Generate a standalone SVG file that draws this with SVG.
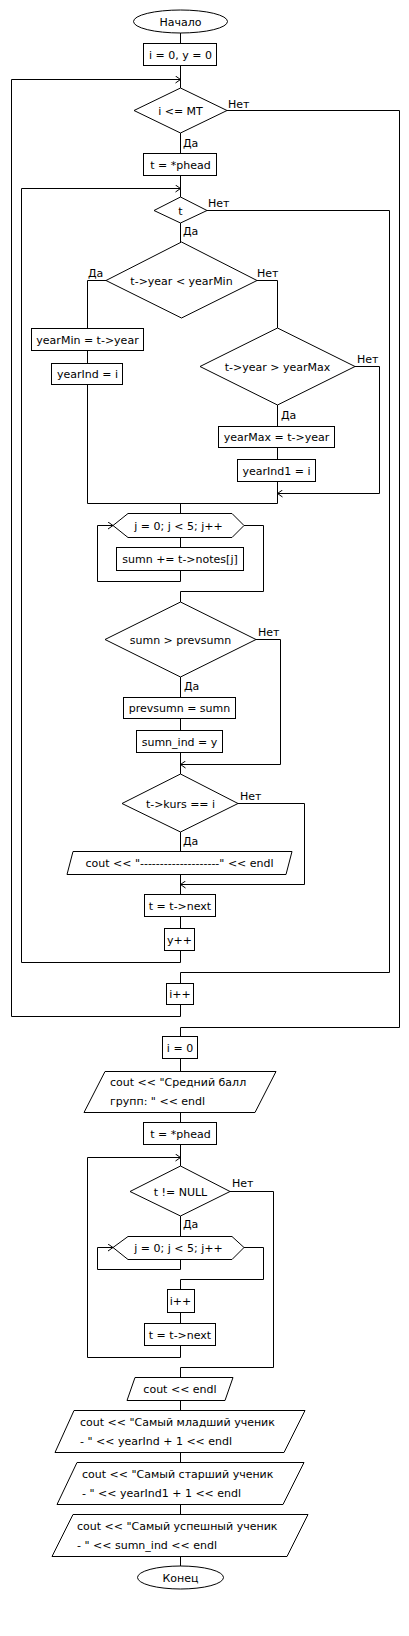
<svg xmlns="http://www.w3.org/2000/svg" width="409" height="1636" viewBox="0 0 409 1636">
<style>
.s{fill:#fff;stroke:#000;stroke-width:1}
.c{fill:none;stroke:#000;stroke-width:1}
text{font-family:"DejaVu Sans","Liberation Sans",sans-serif;font-size:11px;fill:#000}
.m{text-anchor:middle}
</style>
<defs>
<marker id="a" markerUnits="userSpaceOnUse" markerWidth="8" markerHeight="8" refX="6" refY="4" orient="auto">
<path d="M1,0.5 L6,4 L1,7.5" fill="none" stroke="#000" stroke-width="1"/>
</marker>
</defs>
<rect width="409" height="1636" fill="#fff"/>
<g id="connectors" class="c">
<path d="M180.5,33 V43"/>
<path d="M180.5,66 V88"/>
<path d="M180.5,1005 V1016.5 H11.5 V79.5 H180.5" marker-end="url(#a)"/>
<path d="M227,110.5 H399.5 V1027.5 H180.5 V1036"/>
<path d="M180.5,133 V153"/>
<path d="M180.5,176 V197"/>
<path d="M180.5,951 V962.5 H21.5 V188.5 H180.5" marker-end="url(#a)"/>
<path d="M207,210.5 H389.5 V972.5 H180.5 V983"/>
<path d="M180.5,223 V242"/>
<path d="M106,280.5 H87.5 V328"/>
<path d="M87.5,351 V363"/>
<path d="M87.5,385 V503.5 H277.5"/>
<path d="M257,280.5 H277.5 V328"/>
<path d="M277.5,405 V426"/>
<path d="M277.5,448 V459"/>
<path d="M277.5,482 V503.5"/>
<path d="M355,366.5 H379.5 V493.5 H277.5" marker-end="url(#a)"/>
<path d="M180.5,503.5 V513"/>
<path d="M180.5,537 V547"/>
<path d="M180.5,571 V581.5 H97.5 V525.5 H113" marker-end="url(#a)"/>
<path d="M244,525.5 H263.5 V591.5 H180.5 V602"/>
<path d="M180.5,677 V697"/>
<path d="M180.5,719 V730"/>
<path d="M180.5,753 V774"/>
<path d="M256,639.5 H280.5 V764.5 H180.5" marker-end="url(#a)"/>
<path d="M180.5,832 V851"/>
<path d="M180.5,874 V894"/>
<path d="M238,803.5 H304.5 V884.5 H180.5" marker-end="url(#a)"/>
<path d="M180.5,917 V928"/>
<path d="M180.5,1059 V1071"/>
<path d="M180.5,1112 V1122"/>
<path d="M180.5,1145 V1166"/>
<path d="M180.5,1346 V1357.5 H87.5 V1157.5 H180.5" marker-end="url(#a)"/>
<path d="M230,1191.5 H273.5 V1367.5 H180.5 V1377"/>
<path d="M180.5,1216 V1236"/>
<path d="M180.5,1259 V1269.5 H97.5 V1247.5 H113" marker-end="url(#a)"/>
<path d="M244,1247.5 H263.5 V1279.5 H180.5 V1289"/>
<path d="M180.5,1313 V1323"/>
<path d="M180.5,1400 V1410"/>
<path d="M180.5,1452 V1462"/>
<path d="M180.5,1504 V1514"/>
<path d="M180.5,1556 V1566"/>
</g>
<g id="labels">
<text x="228" y="108">Нет</text>
<text x="183" y="147">Да</text>
<text x="208" y="207">Нет</text>
<text x="183" y="235">Да</text>
<text x="88" y="277">Да</text>
<text x="257" y="277">Нет</text>
<text x="357" y="363">Нет</text>
<text x="281" y="419">Да</text>
<text x="258" y="636">Нет</text>
<text x="184" y="690">Да</text>
<text x="240" y="800">Нет</text>
<text x="183" y="845">Да</text>
<text x="232" y="1187">Нет</text>
<text x="183" y="1228">Да</text>
</g>
<g id="start"><ellipse class="s" cx="180.5" cy="21.5" rx="47" ry="11.5"/><text class="m" x="180.5" y="25.5">Начало</text></g>
<g id="init"><rect class="s" x="143.5" y="43.5" width="73" height="22"/><text class="m" x="180.5" y="58.5">i = 0, y = 0</text></g>
<g id="cond_i"><polygon class="s" points="180.5,88 227,110.5 180.5,133 134,110.5"/><text class="m" x="180.5" y="114.5">i &lt;= MT</text></g>
<g id="t_phead"><rect class="s" x="143.5" y="153.5" width="73" height="22"/><text class="m" x="180.5" y="168.5">t = *phead</text></g>
<g id="cond_t"><polygon class="s" points="180.5,197 207,210.5 180.5,223 154,210.5"/><text class="m" x="180.5" y="214.5">t</text></g>
<g id="cond_min"><polygon class="s" points="181.5,242 257,280.5 181.5,318 106,280.5"/><text class="m" x="181.5" y="284.5">t-&gt;year &lt; yearMin</text></g>
<g id="set_min"><rect class="s" x="31.5" y="328.5" width="112" height="22"/><text class="m" x="87.5" y="343.5">yearMin = t-&gt;year</text></g>
<g id="set_ind"><rect class="s" x="51.5" y="363.5" width="71" height="21"/><text class="m" x="87.5" y="378">yearInd = i</text></g>
<g id="cond_max"><polygon class="s" points="277.5,328 355,366.5 277.5,405 200,366.5"/><text class="m" x="277.5" y="370.5">t-&gt;year &gt; yearMax</text></g>
<g id="set_max"><rect class="s" x="218.5" y="426.5" width="116" height="21"/><text class="m" x="276.5" y="441">yearMax = t-&gt;year</text></g>
<g id="set_ind1"><rect class="s" x="237.5" y="459.5" width="78" height="22"/><text class="m" x="276.5" y="474.5">yearInd1 = i</text></g>
<g id="loop_j1"><polygon class="s" points="113,525.5 128,513.5 232,513.5 244,525.5 232,537.5 128,537.5"/><text class="m" x="178.5" y="529.5">j = 0; j &lt; 5; j++</text></g>
<g id="sumn_add"><rect class="s" x="116.5" y="547.5" width="127" height="23"/><text class="m" x="180" y="563">sumn += t-&gt;notes[j]</text></g>
<g id="cond_sumn"><polygon class="s" points="180.5,602 256,639.5 180.5,677 105,639.5"/><text class="m" x="180.5" y="643.5">sumn &gt; prevsumn</text></g>
<g id="set_prev"><rect class="s" x="123.5" y="697.5" width="112" height="21"/><text class="m" x="179.5" y="712">prevsumn = sumn</text></g>
<g id="set_sind"><rect class="s" x="136.5" y="730.5" width="86" height="22"/><text class="m" x="179.5" y="745.5">sumn_ind = y</text></g>
<g id="cond_kurs"><polygon class="s" points="180.5,774 238,803.5 180.5,832 122,803.5"/><text class="m" x="180.5" y="807.5">t-&gt;kurs == i</text></g>
<g id="out_dash"><polygon class="s" points="73,851.5 292,851.5 286,874.5 67,874.5"/><text class="m" x="179.5" y="867">cout &lt;&lt; "--------------------" &lt;&lt; endl</text></g>
<g id="t_next"><rect class="s" x="144.5" y="894.5" width="71" height="22"/><text class="m" x="180" y="909.5">t = t-&gt;next</text></g>
<g id="y_inc"><rect class="s" x="164.5" y="928.5" width="30" height="22"/><text class="m" x="179.5" y="943.5">y++</text></g>
<g id="i_inc"><rect class="s" x="166.5" y="983.5" width="27" height="21"/><text class="m" x="180" y="998">i++</text></g>
<g id="i_zero"><rect class="s" x="162.5" y="1036.5" width="35" height="22"/><text class="m" x="180" y="1051.5">i = 0</text></g>
<g id="out_avg"><polygon class="s" points="105,1071.5 276,1071.5 255,1112.5 84,1112.5"/><text x="110" y="1086">cout &lt;&lt; "Средний балл</text><text x="110" y="1105">групп: " &lt;&lt; endl</text></g>
<g id="t_phead2"><rect class="s" x="143.5" y="1122.5" width="73" height="22"/><text class="m" x="180.5" y="1137.5">t = *phead</text></g>
<g id="cond_null"><polygon class="s" points="180.5,1166 230,1191.5 180.5,1216 130,1191.5"/><text class="m" x="180.5" y="1195.5">t != NULL</text></g>
<g id="loop_j2"><polygon class="s" points="113,1247.5 128,1236.5 232,1236.5 244,1247.5 232,1259.5 128,1259.5"/><text class="m" x="178.5" y="1251.5">j = 0; j &lt; 5; j++</text></g>
<g id="i_inc2"><rect class="s" x="167.5" y="1289.5" width="27" height="23"/><text class="m" x="180.5" y="1305">i++</text></g>
<g id="t_next2"><rect class="s" x="144.5" y="1323.5" width="71" height="22"/><text class="m" x="180" y="1338.5">t = t-&gt;next</text></g>
<g id="out_endl"><polygon class="s" points="135,1377.5 233,1377.5 225,1400.5 127,1400.5"/><text class="m" x="180" y="1393">cout &lt;&lt; endl</text></g>
<g id="out_young"><polygon class="s" points="74,1410.5 305,1410.5 284,1452.5 55,1452.5"/><text x="80" y="1426">cout &lt;&lt; "Самый младший ученик</text><text x="80" y="1445">- " &lt;&lt; yearInd + 1 &lt;&lt; endl</text></g>
<g id="out_old"><polygon class="s" points="77,1462.5 304,1462.5 283,1504.5 57,1504.5"/><text x="82" y="1478">cout &lt;&lt; "Самый старший ученик</text><text x="82" y="1497">- " &lt;&lt; yearInd1 + 1 &lt;&lt; endl</text></g>
<g id="out_best"><polygon class="s" points="73,1514.5 308,1514.5 287,1556.5 52,1556.5"/><text x="77" y="1530">cout &lt;&lt; "Самый успешный ученик</text><text x="77" y="1549">- " &lt;&lt; sumn_ind &lt;&lt; endl</text></g>
<g id="end"><ellipse class="s" cx="180.5" cy="1577.5" rx="43" ry="11.5"/><text class="m" x="180.5" y="1581.5">Конец</text></g>
</svg>
